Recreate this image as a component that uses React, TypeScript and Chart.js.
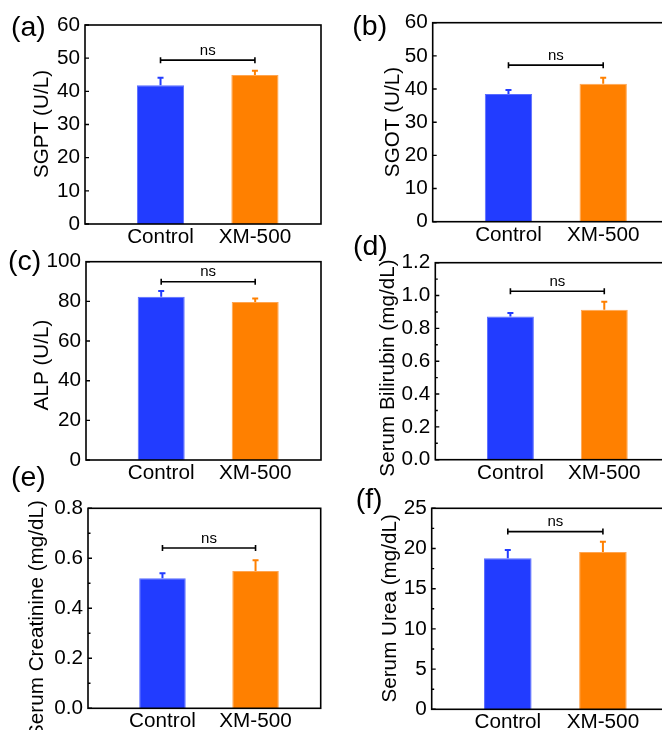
import React, { useEffect, useRef } from 'react';
import { Chart, registerables } from 'chart.js';

Chart.register(...registerables);

// ---------- data ----------
const categories = ['Control', 'XM-500'];

const sgptMean = [41.8, 44.9];
const sgptErr = [2.3, 1.3];
const sgotMean = [38.5, 41.6];
const sgotErr = [1.2, 1.8];
const alpMean = [82.3, 79.7];
const alpErr = [2.9, 1.7];
const bilirubinMean = [0.873, 0.913];
const bilirubinErr = [0.02, 0.049];
const creatinineMean = [0.52, 0.549];
const creatinineErr = [0.02, 0.043];
const ureaMean = [18.8, 19.55];
const ureaErr = [1.0, 1.3];

const panelLetters = ['(a)', '(b)', '(c)', '(d)', '(e)', '(f)'];
const yTitles = [
  'SGPT (U/L)',
  'SGOT (U/L)',
  'ALP (U/L)',
  'Serum Bilirubin (mg/dL)',
  'Serum Creatinine (mg/dL)',
  'Serum Urea (mg/dL)',
];
const yMaxes = [60, 60, 100, 1.2, 0.8, 25];
const ySteps = [10, 10, 20, 0.2, 0.2, 5];
const yDecimals = [0, 0, 0, 1, 1, 0];
const nsLevels = [49.4, 47.2, 89.9, 1.026, 0.641, 22.1];
const significance = ['ns', 'ns', 'ns', 'ns', 'ns', 'ns'];

const panelMeans = [sgptMean, sgotMean, alpMean, bilirubinMean, creatinineMean, ureaMean];
const panelErrs = [sgptErr, sgotErr, alpErr, bilirubinErr, creatinineErr, ureaErr];

// ---------- styles / layout ----------
const FONT = '"Liberation Sans", Arial, sans-serif';
const TEXT_SIZE = 20.7;
const LABEL_SIZE = 28.5;
const NS_SIZE = 15;
const barColors = ['#223cff', '#ff8000'];
const barEdges = ['#5a6cff', '#ffa550'];
const minorTicks = [false, false, false, true, true, true];

type Frame = {
  canvas: { x: number; y: number; w: number; h: number };
  area: { L: number; T: number; R: number; B: number };
  title: { x: number; y: number };
  label: { x: number; y: number };
};

const frames: Frame[] = [
  { canvas: { x: 0, y: 0, w: 331, h: 250 }, area: { L: 85, T: 25, R: 321, B: 224 }, title: { x: 43, y: 124 }, label: { x: 13, y: 28.5 } },
  { canvas: { x: 331, y: 0, w: 341, h: 250 }, area: { L: 432.7, T: 22.7, R: 669.5, B: 221.7 }, title: { x: 393.5, y: 122 }, label: { x: 354.3, y: 27.5 } },
  { canvas: { x: 0, y: 235, w: 331, h: 250 }, area: { L: 86, T: 261.7, R: 321, B: 460 }, title: { x: 42.5, y: 365 }, label: { x: 10, y: 262.5 } },
  { canvas: { x: 331, y: 225, w: 341, h: 260 }, area: { L: 435.3, T: 262.7, R: 670, B: 459.7 }, title: { x: 388.5, y: 368 }, label: { x: 355, y: 247.5 } },
  { canvas: { x: 0, y: 455, w: 331, h: 290 }, area: { L: 88, T: 508.3, R: 320.7, B: 708.3 }, title: { x: 37.5, y: 619 }, label: { x: 13, y: 479 } },
  { canvas: { x: 331, y: 470, w: 341, h: 260 }, area: { L: 431.7, T: 508.3, R: 669.5, B: 709.3 }, title: { x: 390.2, y: 608.3 }, label: { x: 357.7, y: 500.8 } },
];

const Y_AXIS_W = 45;
const X_AXIS_H = 20;

function Panel({ index }: { index: number }) {
  const ref = useRef<HTMLCanvasElement | null>(null);
  const f = frames[index];

  useEffect(() => {
    if (!ref.current) return;
    const cx = f.canvas.x;
    const cy = f.canvas.y;
    const means = panelMeans[index];
    const errs = panelErrs[index];
    const padding = {
      left: f.area.L - cx - Y_AXIS_W,
      top: f.area.T - cy,
      right: cx + f.canvas.w - f.area.R,
      bottom: cy + f.canvas.h - f.area.B - X_AXIS_H,
    };

    const decor = {
      id: 'decor',
      afterDatasetsDraw(chart: any) {
        const { ctx, chartArea: a, scales } = chart;
        const ys = scales.y;
        const xs = scales.x;
        ctx.save();
        // error bars (upper only)
        const meta = chart.getDatasetMeta(0);
        meta.data.forEach((el: any, k: number) => {
          const x = el.x;
          const y0 = ys.getPixelForValue(means[k]);
          const y1 = ys.getPixelForValue(means[k] + errs[k]);
          ctx.strokeStyle = barColors[k];
          ctx.lineWidth = 2;
          ctx.beginPath();
          ctx.moveTo(x, y0);
          ctx.lineTo(x, y1);
          ctx.moveTo(x - 3, y1);
          ctx.lineTo(x + 3, y1);
          ctx.stroke();
        });
        // frame
        ctx.strokeStyle = '#000';
        ctx.lineWidth = 1.6;
        ctx.strokeRect(a.left, a.top, a.right - a.left, a.bottom - a.top);
        // inward ticks
        const step = ySteps[index];
        const n = Math.round(yMaxes[index] / step);
        ctx.lineWidth = 1.4;
        ctx.beginPath();
        for (let k = 0; k <= n; k++) {
          const py = ys.getPixelForValue(k * step);
          ctx.moveTo(a.left, py);
          ctx.lineTo(a.left + 4, py);
          if (minorTicks[index] && k < n) {
            const pm = ys.getPixelForValue((k + 0.5) * step);
            ctx.moveTo(a.left, pm);
            ctx.lineTo(a.left + 2.5, pm);
          }
        }
        ctx.stroke();
        // significance bracket
        const bx0 = xs.getPixelForValue(1);
        const bx1 = xs.getPixelForValue(2);
        const by = ys.getPixelForValue(nsLevels[index]);
        ctx.lineWidth = 1.6;
        ctx.beginPath();
        ctx.moveTo(bx0, by);
        ctx.lineTo(bx1, by);
        ctx.moveTo(bx0, by - 3);
        ctx.lineTo(bx0, by + 3);
        ctx.moveTo(bx1, by - 3);
        ctx.lineTo(bx1, by + 3);
        ctx.stroke();
        ctx.fillStyle = '#000';
        ctx.font = `${NS_SIZE}px ${FONT}`;
        ctx.textAlign = 'center';
        ctx.textBaseline = 'alphabetic';
        ctx.fillText(significance[index], (bx0 + bx1) / 2, by - 5.5);
        // y-axis title
        ctx.save();
        ctx.translate(f.title.x - cx, f.title.y - cy);
        ctx.rotate(-Math.PI / 2);
        ctx.font = `${TEXT_SIZE}px ${FONT}`;
        ctx.textAlign = 'center';
        ctx.textBaseline = 'alphabetic';
        ctx.fillText(yTitles[index], 0, 0.26 * TEXT_SIZE);
        ctx.restore();
        // panel letter
        ctx.font = `${LABEL_SIZE}px ${FONT}`;
        ctx.textAlign = 'left';
        ctx.textBaseline = 'alphabetic';
        ctx.fillText(panelLetters[index], f.label.x - 2 - cx, f.label.y + 0.26 * LABEL_SIZE - cy);
        ctx.restore();
      },
    };

    const chart = new Chart(ref.current, {
      type: 'bar',
      data: {
        datasets: [
          {
            data: categories.map((_, k) => ({ x: k + 1, y: means[k] })),
            backgroundColor: barColors,
            borderColor: barEdges,
            borderWidth: 1,
            barPercentage: 0.5,
            categoryPercentage: 1,
          },
        ],
      },
      options: {
        animation: false,
        responsive: false,
        devicePixelRatio: 1,
        layout: { padding },
        plugins: { legend: { display: false }, tooltip: { enabled: false } },
        scales: {
          x: {
            type: 'linear',
            min: 0.2,
            max: 2.7,
            offset: false,
            grid: { display: false, drawTicks: false, offset: false },
            border: { display: false },
            ticks: {
              padding: 1,
              color: '#000',
              autoSkip: false,
              maxRotation: 0,
              font: { family: FONT, size: TEXT_SIZE, lineHeight: 1.2 },
              callback: (v: any) => categories[Math.round(Number(v)) - 1] ?? '',
            },
            afterBuildTicks: (s: any) => {
              s.ticks = categories.map((_, k) => ({ value: k + 1 }));
            },
            afterFit: (s: any) => {
              s.height = X_AXIS_H;
              s.paddingLeft = 0;
              s.paddingRight = 0;
            },
          },
          y: {
            type: 'linear',
            min: 0,
            max: yMaxes[index],
            grid: { display: false, drawTicks: false },
            border: { display: false },
            ticks: {
              stepSize: ySteps[index],
              padding: 5,
              color: '#000',
              font: { family: FONT, size: TEXT_SIZE },
              callback: (v: any) => Number(v).toFixed(yDecimals[index]),
            },
            afterFit: (s: any) => {
              s.width = Y_AXIS_W;
              s.paddingTop = 0;
              s.paddingBottom = 0;
            },
          },
        },
      } as any,
      plugins: [decor],
    });
    return () => chart.destroy();
  }, [index]);

  return (
    <canvas
      ref={ref}
      width={f.canvas.w}
      height={f.canvas.h}
      style={{
        position: 'absolute',
        left: f.canvas.x,
        top: f.canvas.y,
        width: f.canvas.w,
        height: f.canvas.h,
      }}
    />
  );
}

export default function App() {
  return (
    <div
      style={{
        position: 'absolute',
        left: 0,
        top: 0,
        width: 662,
        height: 730,
        overflow: 'hidden',
        background: '#fff',
      }}
    >
      {frames.map((_, i) => (
        <Panel key={i} index={i} />
      ))}
    </div>
  );
}
